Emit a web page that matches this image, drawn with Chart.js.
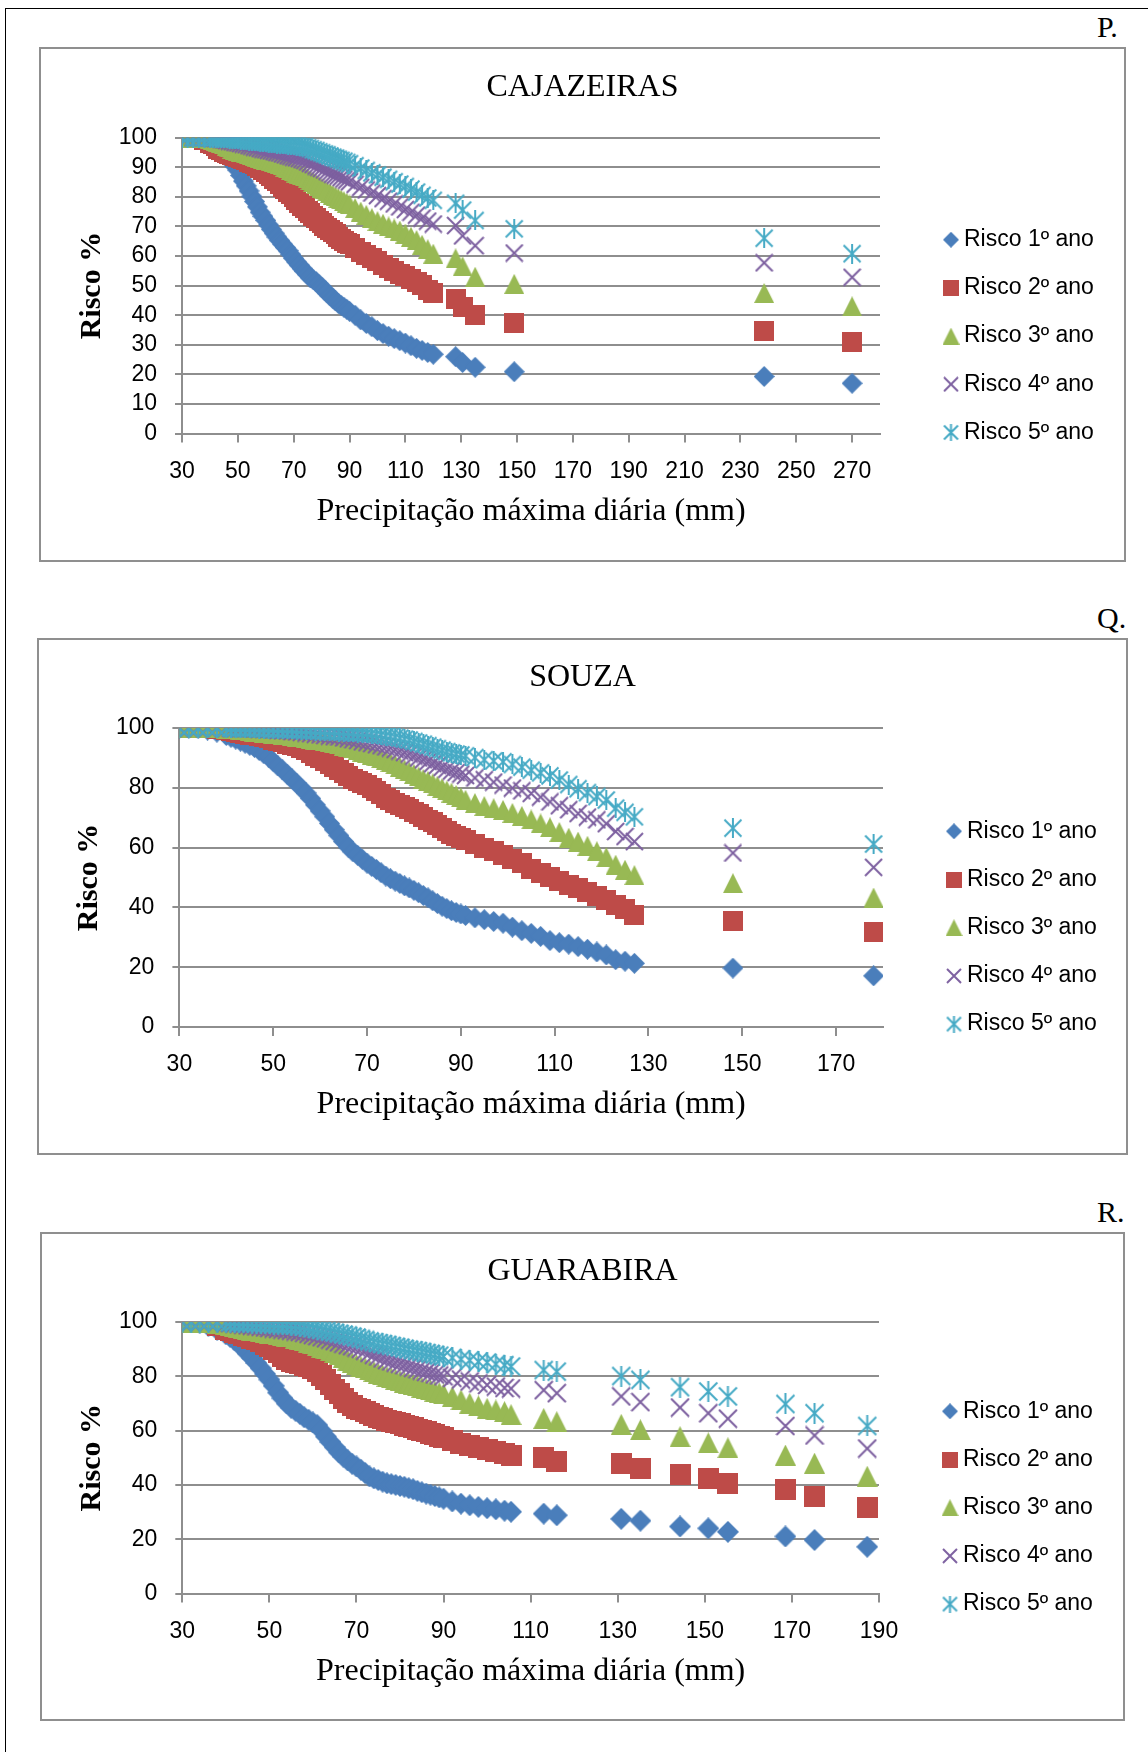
<!DOCTYPE html>
<html lang="pt">
<head>
<meta charset="utf-8">
<title>Risco x Precipitação máxima diária</title>
<script src="https://cdn.jsdelivr.net/npm/chart.js@4.4.1/dist/chart.umd.min.js"></script>
<style>
    html, body { margin: 0; padding: 0; background: #fff; }
    #pagina { position: relative; width: 1148px; height: 1752px; overflow: hidden; background: #fff; }
    .linha-topo { position: absolute; left: 5px; top: 8px; width: 1143px; height: 1px; background: #000; }
    .linha-esq { position: absolute; left: 5px; top: 8px; width: 1px; height: 1744px; background: #000; }
    .letra { position: absolute; left: 1097px; font-family: "Liberation Serif", serif; font-size: 30px; line-height: 30px; color: #000; }
    .caixa { position: absolute; box-sizing: border-box; border: 2px solid #8f8f8f; background: #fff; }
    .caixa canvas { position: absolute; left: 0; top: 0; }
</style>
</head>
<body>
<div id="pagina">
    <div class="linha-topo"></div>
    <div class="linha-esq"></div>
    <div class="letra" id="letraP">P.</div>
    <div class="caixa" id="caixaP"><canvas id="graficoP"></canvas></div>
    <div class="letra" id="letraQ">Q.</div>
    <div class="caixa" id="caixaQ"><canvas id="graficoQ"></canvas></div>
    <div class="letra" id="letraR">R.</div>
    <div class="caixa" id="caixaR"><canvas id="graficoR"></canvas></div>
</div>
<script>
// nomes das series (legenda)
const seriesNames = ['Risco 1º ano', 'Risco 2º ano', 'Risco 3º ano', 'Risco 4º ano', 'Risco 5º ano'];
const xAxisTitle = 'Precipitação máxima diária (mm)';
const yAxisTitle = 'Risco %';

// ---- P. CAJAZEIRAS ----
const tituloP = 'CAJAZEIRAS';
const xTicksP = [30, 50, 70, 90, 110, 130, 150, 170, 190, 210, 230, 250, 270];
const yTicksP = [0, 10, 20, 30, 40, 50, 60, 70, 80, 90, 100];
const precipP = [30, 32, 34, 36, 38,
    40, 41, 42, 43, 44, 45, 46, 47, 48, 49, 50, 51, 52, 53, 54, 55, 56, 57, 58, 59, 60, 61, 62, 63, 64, 65, 66, 67, 68, 69,
    70, 71, 72, 73, 74, 75, 76, 77, 78, 79, 80, 81, 82, 83, 84, 85, 86, 87, 88, 89, 90,
    92, 94, 96, 98, 100, 102, 104, 106, 108, 110, 112, 114, 116, 118, 120,
    128, 130.5, 135, 149, 238.5, 270];
const riscoP1 = [100, 100, 100, 99.8, 99.3,
    98.3, 97.6, 96.8, 95.9, 95, 94.3, 93.5, 92.5, 91.5, 90.3,
    89, 87.2, 85.3, 83.7, 82, 80.2, 78.4, 76.6, 74.8, 73.4,
    72, 70.5, 69, 67.7, 66.4, 65.2, 64, 62.9, 61.8, 60.5,
    59.2, 58, 56.9, 55.8, 54.8, 53.7, 52.6, 52, 51.4, 50.4,
    49.5, 48.5, 47.6, 46.6, 45.7, 44.8, 44, 43.3, 42.7, 42,
    41.3,
    40, 38.4, 37.2, 36.1, 34.8, 33.8, 32.9, 32.1, 31.4, 30.6, 29.7, 28.8, 28.1, 27.4, 26.8,
    26, 24, 22.4, 20.9, 19.3, 17];
const riscoP2 = [100, 100, 100, 99.8, 99.2,
    98.3, 97.7, 97, 96.3, 95.7, 95.3, 94.9, 94.5, 94.1, 93.8,
    93.4, 93.1, 92.7, 92.3, 91.9, 91.5, 91.1, 90.5, 89.8, 89.2,
    88.5, 87.7, 86.9, 86.1, 85.2, 84.3, 83.4, 82.6, 81.7, 80.8,
    79.8, 78.9, 77.9, 77, 76.1, 75.3, 74.4, 73.6, 72.7, 71.9,
    71, 70.3, 69.5, 68.8, 68, 67.3, 66.5, 65.8, 65.1, 64.5,
    63.9,
    62.6, 61.5, 60.4, 59.3, 58.2, 57, 56, 55, 54, 53.1, 52.2, 51.2, 50.2, 48.5, 47.5,
    45.5, 42.8, 40, 37.5, 34.7, 31];
const riscoP3 = [100, 100, 100, 100, 99.8,
    99.5, 99.3, 99, 98.6, 98.2, 97.7, 97.2, 96.7, 96.2, 95.9,
    95.6, 95.3, 95, 94.7, 94.4, 94.1, 93.8, 93.5, 93.2, 92.9,
    92.6, 92.4, 92.2, 91.9, 91.5, 91.1, 90.6, 90.1, 89.6, 89.1,
    88.6, 88.2, 87.7, 87.3, 86.9, 86.3, 85.6, 85, 84.3, 83.7,
    83, 82.5, 81.9, 81.3, 80.7, 80.2, 79.6, 79.1, 78.5, 78,
    77.4,
    76.2, 75, 73.9, 72.8, 71.8, 70.9, 70, 69.3, 68.6, 67.6, 66.5, 65.4, 63.8, 62.3, 60.8,
    59.2, 56.5, 53, 50.6, 47.5, 43];
const riscoP4 = [100, 100, 100, 100, 100,
    99.9, 99.8, 99.7, 99.6, 99.4, 99.2, 99, 98.8, 98.6, 98.4,
    98.2, 98, 97.8, 97.6, 97.3, 97.1, 96.8, 96.6, 96.3, 96.1,
    95.9, 95.7, 95.5, 95.3, 95, 94.8, 94.5, 94.2, 93.9, 93.7,
    93.4, 93.2, 92.9, 92.6, 92.3, 91.8, 91.3, 90.9, 90.4, 90,
    89.6, 89.1, 88.6, 88.1, 87.6, 87.3, 87, 86.5, 86, 85.6,
    85.1,
    84.2, 83.2, 82.3, 81.3, 80.4, 79.4, 78.5, 77.6, 76.6, 75.7, 74.8, 73.8, 72.8, 71.8, 70.8,
    70.3, 66.8, 63.5, 61, 57.7, 52.8];
const riscoP5 = [100, 100, 100, 100, 100,
    100, 99.9, 99.9, 99.8, 99.8, 99.7, 99.7, 99.6, 99.6, 99.5,
    99.4, 99.3, 99.2, 99.1, 99, 98.9, 98.8, 98.7, 98.6, 98.5,
    98.4, 98.3, 98.2, 98.1, 98, 97.9, 97.8, 97.7, 97.6, 97.5,
    97.4, 97.3, 97.2, 97.1, 97, 96.6, 96.3, 95.9, 95.6, 95.2,
    94.9, 94.5, 94.2, 93.8, 93.4, 93.1, 92.7, 92.3, 92, 91.6,
    91.2,
    90.5, 89.7, 88.9, 88.1, 87.4, 86.6, 85.9, 85.1, 84.3, 83.5, 82.6, 81.6, 80.5, 79.6, 78.8,
    77.8, 75.5, 72, 69.2, 66, 60.8];

// ---- Q. SOUZA ----
const tituloQ = 'SOUZA';
const xTicksQ = [30, 50, 70, 90, 110, 130, 150, 170];
const yTicksQ = [0, 20, 40, 60, 80, 100];
const precipQ = [30, 32, 34, 36, 38,
    40, 41, 42, 43, 44, 45, 46, 47, 48, 49, 50, 51, 52, 53, 54, 55, 56, 57, 58, 59, 60, 61, 62, 63, 64, 65, 66, 67, 68, 69,
    70, 71, 72, 73, 74, 75, 76, 77, 78, 79, 80, 81, 82, 83, 84, 85, 86, 87, 88, 89, 90,
    91, 93, 95, 97, 99, 101, 103, 105, 107, 109, 111, 113, 115, 117, 119, 121, 123, 125, 127,
    148, 178];
const riscoQ1 = [100, 100, 99.8, 99.3, 98.6,
    97.5, 96.9, 96.3, 95.6, 94.9, 94.2, 93.5, 92.5, 91.4, 90.3,
    88.8, 87.3, 86, 84.5, 83, 81.5, 79.9, 78.3, 76.4, 74.3,
    72.3, 70.3, 68.1, 66, 64, 62, 60.2, 58.6, 57.4, 56.1,
    54.8, 53.7, 52.7, 51.6, 50.5, 49.6, 48.8, 48, 47.2, 46.5,
    45.7, 44.9, 44, 43.2, 42.2, 41.3, 40.4, 39.6, 38.9, 38.3,
    37.8,
    37.3, 36.5, 35.9, 35.3, 34.7, 33.4, 32.2, 31.3, 30.3, 28.9, 28.2, 27.7, 26.9, 26, 25.1, 24.1, 22.5, 22, 21.3,
    19.7, 17.1];
const riscoQ2 = [100, 100, 100, 99.9, 99.7,
    99.3, 99, 98.7, 98.4, 98.1, 97.8, 97.6, 97.3, 96.9, 96.6,
    96.1, 95.7, 95.2, 94.8, 94.4, 93.9, 93.4, 92.6, 91.7, 90.8,
    89.8, 88.9, 87.9, 86.9, 86, 85.1, 84.1, 83.1, 82.4, 81.6,
    80.9, 79.9, 78.9, 77.8, 76.7, 75.8, 75, 74.2, 73.5, 72.8,
    72, 71.1, 70.2, 69.3, 68.4, 67.4, 66.5, 65.5, 64.6, 63.8,
    63.2,
    62.6, 61.3, 60, 58.8, 57.5, 56.2, 54.8, 53, 51.4, 50.1, 48.8, 47.6, 46.4, 45.1, 43.8, 42.5, 40.9, 39.3, 37.5,
    35.4, 31.7];
const riscoQ3 = [100, 100, 100, 100, 99.9,
    99.8, 99.7, 99.5, 99.4, 99.2, 99, 98.8, 98.6, 98.4, 98.2,
    98.1, 97.9, 97.8, 97.6, 97.4, 97.1, 96.9, 96.7, 96.4, 96.1,
    95.9, 95.6, 95.3, 94.9, 94.5, 94, 93.6, 93.2, 92.7, 92.1,
    91.6, 91.1, 90.5, 89.9, 89.3, 88.6, 87.8, 87, 86.2, 85.5,
    84.6, 83.8, 83, 82.3, 81.5, 80.7, 79.9, 79.1, 78.4, 77.6,
    76.8,
    76, 74.9, 73.9, 73.2, 72.6, 71.6, 70.6, 69.4, 68.1, 66.8, 65.2, 63.3, 62, 60.6, 58.8, 56.8, 54.3, 52.6, 50.8,
    48.1, 43.3];
const riscoQ4 = [100, 100, 100, 100, 100,
    100, 99.9, 99.9, 99.9, 99.8, 99.8, 99.7, 99.6, 99.6, 99.5,
    99.4, 99.2, 99.1, 99, 98.8, 98.7, 98.5, 98.3, 98.1, 97.9,
    97.7, 97.5, 97.3, 97.1, 97, 96.7, 96.4, 96.1, 95.8, 95.4,
    95.1, 94.8, 94.4, 94.1, 93.7, 93.3, 92.8, 92.3, 91.8, 91.3,
    90.6, 90, 89.4, 88.8, 88.1, 87.5, 86.8, 86.2, 85.6, 85.1,
    84.6,
    84.1, 83.3, 82.7, 81.9, 80.9, 79.9, 79, 78.1, 76.9, 75.3, 74, 72.7, 71.4, 70.2, 69.3, 68, 65.4, 63.7, 62,
    58.2, 53.4];
const riscoQ5 = [100, 100, 100, 100, 100,
    100, 100, 100, 100, 99.9, 99.9, 99.9, 99.8, 99.8, 99.8,
    99.7, 99.7, 99.6, 99.5, 99.5, 99.4, 99.3, 99.3, 99.2, 99.1,
    99.1, 99, 98.9, 98.9, 98.8, 98.7, 98.6, 98.5, 98.4, 98.4,
    98.3, 98.1, 97.9, 97.7, 97.4, 97.2, 96.9, 96.6, 96.3, 96,
    95.5, 95, 94.6, 94.1, 93.6, 93.1, 92.6, 92.1, 91.7, 91.3,
    91,
    90.7, 90.1, 89.4, 89, 88.7, 87.8, 86.9, 85.9, 85, 84, 82.6, 81.1, 79.7, 78.4, 77.1, 75.9, 73.2, 71.8, 70.3,
    66.5, 61.2];

// ---- R. GUARABIRA ----
const tituloR = 'GUARABIRA';
const xTicksR = [30, 50, 70, 90, 110, 130, 150, 170, 190];
const yTicksR = [0, 20, 40, 60, 80, 100];
const precipR = [30, 32, 34, 36, 38,
    40, 41, 42, 43, 44, 45, 46, 47, 48, 49, 50, 51, 52, 53, 54, 55, 56, 57, 58, 59, 60, 61, 62, 63, 64, 65, 66, 67, 68, 69,
    70, 71, 72, 73, 74, 75, 76, 77, 78, 79, 80, 81, 82, 83, 84, 85, 86, 87, 88, 89, 90,
    92, 94, 96, 98, 100, 102, 104, 105.5, 113, 116,
    130.8, 135.2, 144.3, 150.8, 155.3, 168.5, 175.2, 187.3];
const riscoR1 = [100, 100, 99.6, 98.6, 97.2,
    95.5, 94.5, 93.3, 91.9, 90.2, 88.5, 86.8, 84.9, 83, 80.9,
    78.8, 76.5, 74, 71.9, 70, 68.4, 67.3, 66.2, 64.9, 64,
    63, 62, 59.9, 57.8, 55.8, 53.9, 52, 50.4, 49, 47.8,
    46.8, 45.6, 44.4, 43.1, 42.4, 41.8, 41.2, 40.6, 40.3, 40,
    39.6, 39.3, 38.8, 38.4, 37.8, 37.3, 36.8, 36.4, 35.9, 35.4,
    34.9,
    33.9, 33.1, 32.5, 31.9, 31.4, 31, 30.5, 30.1, 29.4, 28.8,
    27.5, 26.8, 24.7, 24, 22.7, 21, 19.7, 17.2];
const riscoR2 = [100, 100, 99.9, 99.7, 98.8,
    97.4, 96.7, 96.1, 95.6, 95.1, 94.6, 94.1, 93.5, 92.7, 91.8,
    90.8, 89.8, 88.6, 87.3, 86.3, 85.6, 85.1, 84.6, 84.1, 83.6,
    82.9, 81.9, 80.4, 78.8, 76.9, 75.2, 73.5, 71.9, 70.5, 69.3,
    68.2, 67.6, 67, 66.4, 65.7, 65, 64.4, 63.9, 63.4, 63,
    62.5, 62, 61.5, 61.1, 60.5, 60, 59.5, 59, 58.5, 58,
    57.3,
    56.2, 55.3, 54.6, 53.8, 52.9, 52.3, 51.5, 51, 50.2, 48.6,
    48, 45.9, 43.9, 42.5, 40.4, 38.4, 35.7, 31.6];
const riscoR3 = [100, 100, 100, 99.9, 99.6,
    99.1, 98.8, 98.4, 98, 97.7, 97.3, 97, 96.7, 96.5, 96.2,
    95.9, 95.6, 95.3, 95, 94.8, 94.5, 94.1, 93.7, 93.3, 92.6,
    92, 91.3, 90.7, 90.1, 89.4, 88.8, 88, 87, 86, 85.1,
    84.3, 83.7, 83.1, 82.4, 81.8, 81.1, 80.5, 79.9, 79.4, 78.9,
    78.4, 77.9, 77.5, 77, 76.5, 76, 75.5, 75, 74.5, 74,
    73.5,
    72.5, 71.3, 70.1, 69.1, 68.2, 67.6, 67, 65.9, 64.5, 63.3,
    62.3, 60.3, 57.8, 55.5, 53.7, 51, 48, 43.2];
const riscoR4 = [100, 100, 100, 100, 99.9,
    99.7, 99.6, 99.4, 99.2, 99, 98.8, 98.6, 98.4, 98.2, 98,
    97.8, 97.6, 97.4, 97.2, 97, 96.8, 96.5, 96.3, 96, 95.6,
    95.2, 94.8, 94.4, 94, 93.5, 93, 92.5, 92, 91.5, 91.1,
    90.6, 90.1, 89.4, 88.6, 87.9, 87.3, 86.6, 86, 85.5, 85,
    84.6, 84.1, 83.6, 83.1, 82.6, 82.1, 81.6, 81.2, 80.7, 80.3,
    80,
    79.4, 78.8, 78.1, 77.4, 76.8, 76.2, 75.7, 75.5, 74.9, 73.8,
    72.6, 70.5, 68.5, 66.4, 64.4, 61.7, 58.2, 53.4];
const riscoR5 = [100, 100, 100, 100, 100,
    99.9, 99.9, 99.9, 99.8, 99.7, 99.7, 99.6, 99.5, 99.5, 99.4,
    99.3, 99.2, 99.1, 99, 99, 98.8, 98.7, 98.5, 98.3, 98,
    97.7, 97.4, 97.1, 96.7, 96.4, 96.1, 95.7, 95.4, 95.1, 94.7,
    94.3, 93.8, 93.4, 92.9, 92.6, 92.2, 91.9, 91.6, 91.2, 90.9,
    90.6, 90.2, 89.9, 89.6, 89.3, 89, 88.6, 88.3, 88, 87.6,
    87.3,
    86.8, 86.3, 85.9, 85.4, 85.1, 84.5, 84.1, 83.6, 82.3, 81.7,
    80.1, 78.7, 76, 74.4, 72.6, 69.8, 66.4, 61.7];

function loadPage() {
    // cores e marcadores no estilo do Excel
    const cores = ['#4a7ebb', '#be4b48', '#98b954', '#7d60a0', '#46aac5'];
    const tipos = ['diamante', 'quadrado', 'triangulo', 'xis', 'estrela'];
    const tamLegenda = [16, 16, 17, 16, 17];
    const corGrade = '#8e8e8e';
    const fonteSans = '"Liberation Sans"';

    function marcador(tipo, cor, tam) {
        const c = document.createElement('canvas');
        c.width = tam;
        c.height = tam;
        const g = c.getContext('2d');
        const m = tam / 2;
        g.fillStyle = cor;
        g.strokeStyle = cor;
        g.lineWidth = 2;
        g.beginPath();
        if (tipo == 'diamante') {
            g.moveTo(m, 0); g.lineTo(tam, m); g.lineTo(m, tam); g.lineTo(0, m);
            g.closePath(); g.fill();
        } else if (tipo == 'quadrado') {
            g.fillRect(0, 0, tam, tam);
        } else if (tipo == 'triangulo') {
            g.moveTo(m, 0); g.lineTo(tam, tam); g.lineTo(0, tam);
            g.closePath(); g.fill();
        } else if (tipo == 'xis') {
            g.moveTo(1, 1); g.lineTo(tam - 1, tam - 1);
            g.moveTo(tam - 1, 1); g.lineTo(1, tam - 1);
            g.stroke();
        } else {
            g.moveTo(1.5, 1.5); g.lineTo(tam - 1.5, tam - 1.5);
            g.moveTo(tam - 1.5, 1.5); g.lineTo(1.5, tam - 1.5);
            g.moveTo(m, 0); g.lineTo(m, tam);
            g.stroke();
        }
        return c;
    }
    const marcasLegenda = tipos.map((t, i) => marcador(t, cores[i], tamLegenda[i]));

    // legenda desenhada ao lado do grafico
    const legendaLateral = {
        id: 'legendaLateral',
        afterDraw(chart, args, opts) {
            const ctx = chart.ctx;
            const x = chart.chartArea.right + opts.dx;
            ctx.save();
            ctx.font = '23px ' + fonteSans;
            ctx.fillStyle = '#000';
            ctx.textBaseline = 'middle';
            ctx.textAlign = 'left';
            seriesNames.forEach((nome, i) => {
                const y = opts.top + i * opts.step;
                const m = marcasLegenda[i];
                ctx.drawImage(m, x - m.width / 2, y - m.height / 2);
                ctx.fillText(nome, x + 13, y);
            });
            ctx.restore();
        }
    };

    function criarGrafico(id, geo, precip, riscos, titulo, xTicks, xMax, yTicks) {
        const caixa = document.getElementById('caixa' + id);
        const letra = document.getElementById('letra' + id);
        const W = geo.box.r - geo.box.l - 4;
        const H = geo.box.b - geo.box.t - 4;
        caixa.style.left = geo.box.l + 'px';
        caixa.style.top = geo.box.t + 'px';
        caixa.style.width = (geo.box.r - geo.box.l) + 'px';
        caixa.style.height = (geo.box.b - geo.box.t) + 'px';
        letra.style.top = (geo.box.t - 35) + 'px';
        const canvas = document.getElementById('grafico' + id);
        canvas.width = W;
        canvas.height = H;
        const ox = geo.box.l + 2, oy = geo.box.t + 2;
        const cl = geo.plot.l - ox, ct = geo.plot.t - oy, cr = geo.plot.r - ox, cb = geo.plot.b - oy;

        riscos.forEach((ys, i) => {
            if (ys.length != precip.length) console.warn(id, i, ys.length, precip.length);
        });
        const marcas = tipos.map((t, i) => marcador(t, cores[i], geo.marca[i]));

        const datasets = riscos.map((ys, i) => ({
            label: seriesNames[i],
            data: precip.map((x, k) => ({x: x, y: ys[k]})),
            pointStyle: marcas[i],
            pointRadius: 9,
            pointHoverRadius: 9,
            showLine: false,
            order: 5 - i
        }));

        return new Chart(canvas.getContext('2d'), {
            type: 'scatter',
            data: {datasets: datasets},
            options: {
                responsive: false,
                animation: false,
                events: [],
                layout: {padding: {left: 10, top: 0, right: 10, bottom: 10}},
                plugins: {
                    legend: {display: false},
                    tooltip: {enabled: false},
                    title: {
                        display: true,
                        text: titulo,
                        color: '#000',
                        font: {family: '"Liberation Serif"', size: 32, weight: 'normal'},
                        padding: {top: ct - 69.2, bottom: 30.8}
                    },
                    legendaLateral: {dx: 71, top: geo.legend - oy, step: 48.2}
                },
                scales: {
                    x: {
                        type: 'linear',
                        min: 30,
                        max: xMax,
                        afterFit: (s) => { s.height = H - 10 - cb; },
                        afterBuildTicks: (s) => { s.ticks = xTicks.map(v => ({value: v})); },
                        ticks: {
                            color: '#000',
                            font: {family: fonteSans, size: 23},
                            padding: 15,
                            maxRotation: 0,
                            autoSkip: false
                        },
                        grid: {drawOnChartArea: false, drawTicks: true, tickLength: 9, color: corGrade, lineWidth: 2},
                        border: {display: true, color: corGrade, width: 2},
                        title: {
                            display: true,
                            text: xAxisTitle,
                            color: '#000',
                            font: {family: '"Liberation Serif"', size: 32},
                            padding: {top: 0, bottom: (H - 10) - 19.2 - (cb + 78)}
                        }
                    },
                    y: {
                        type: 'linear',
                        min: 0,
                        max: 100,
                        afterFit: (s) => { s.width = cl - 10; },
                        afterBuildTicks: (s) => { s.ticks = yTicks.map(v => ({value: v})); },
                        ticks: {color: '#000', font: {family: fonteSans, size: 23}, padding: 18, autoSkip: false},
                        grid: {drawOnChartArea: true, drawTicks: true, tickLength: 7, color: corGrade, lineWidth: 2},
                        border: {display: true, color: corGrade, width: 2},
                        title: {
                            display: true,
                            text: yAxisTitle,
                            color: '#000',
                            font: {family: '"Liberation Serif"', size: 30, weight: 'bold'},
                            padding: {top: (cl - 90) - 10 - 18, bottom: 0}
                        }
                    },
                    // espaco reservado para a legenda (eixo vazio)
                    espaco: {
                        type: 'linear',
                        position: 'right',
                        display: true,
                        afterFit: (s) => { s.width = W - 10 - cr; },
                        ticks: {display: false},
                        grid: {display: false},
                        border: {display: false}
                    }
                }
            },
            plugins: [legendaLateral]
        });
    }

    criarGrafico('P',
        {box: {l: 39, t: 47, r: 1126, b: 562}, plot: {l: 182, t: 137.6, r: 880, b: 433.6}, legend: 239.7, marca: [21, 20, 20, 19, 20]},
        precipP, [riscoP1, riscoP2, riscoP3, riscoP4, riscoP5], tituloP, xTicksP, 280, yTicksP);
    criarGrafico('Q',
        {box: {l: 37, t: 638, r: 1128, b: 1155}, plot: {l: 179.4, t: 728, r: 883, b: 1027}, legend: 831.3, marca: [21, 20, 20, 19, 20]},
        precipQ, [riscoQ1, riscoQ2, riscoQ3, riscoQ4, riscoQ5], tituloQ, xTicksQ, 180, yTicksQ);
    criarGrafico('R',
        {box: {l: 40, t: 1232, r: 1125, b: 1721}, plot: {l: 182.3, t: 1322, r: 879, b: 1593.5}, legend: 1411.3, marca: [22, 21, 21, 20, 21]},
        precipR, [riscoR1, riscoR2, riscoR3, riscoR4, riscoR5], tituloR, xTicksR, 190, yTicksR);
}
window.addEventListener("DOMContentLoaded", loadPage);
</script>
</body>
</html>
